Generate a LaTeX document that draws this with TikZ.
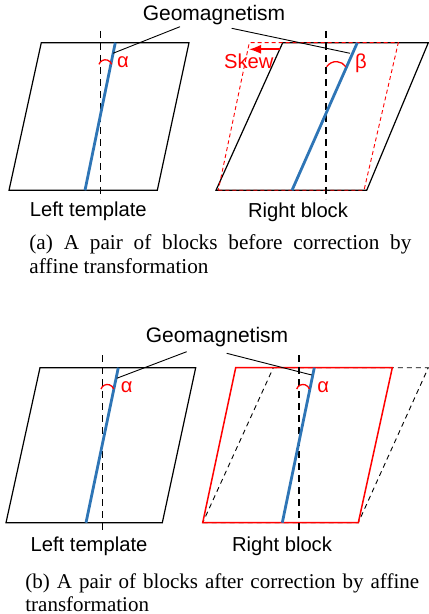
\documentclass[tikz,border=0pt]{standalone}
\usepackage{fontspec}
\setmainfont{Liberation Serif}
\setsansfont{Liberation Sans}
\usetikzlibrary{arrows.meta, positioning}
\definecolor{geoBlue}{RGB}{46,117,182}
\definecolor{skewRed}{RGB}{255,0,0}
\tikzstyle{blockEdge} = [line width=0.6pt, draw=black]
\tikzstyle{fixedEdge} = [line width=0.75pt, draw=skewRed]
\tikzstyle{ghostRed} = [line width=0.45pt, draw=skewRed, dash pattern=on 2pt off 1.5pt]
\tikzstyle{ghostBlack} = [line width=0.45pt, draw=black, dash pattern=on 2.5pt off 2pt]
\tikzstyle{northAxis} = [line width=0.6pt, dash pattern=on 3.5pt off 2.5pt]
\tikzstyle{geoLine} = [line width=1.4pt, draw=geoBlue]
\tikzstyle{leader} = [line width=0.45pt]
\tikzstyle{angleArc} = [line width=0.65pt, draw=skewRed]
\tikzstyle{skewArrow} = [line width=0.8pt, draw=skewRed, -{Latex[length=6pt, width=4.5pt]}]
\tikzstyle{blockName} = [font=\sffamily\fontsize{10.1}{12}\selectfont, inner sep=0pt]
\tikzstyle{fieldName} = [font=\sffamily\fontsize{10.5}{12}\selectfont, inner sep=0pt]
\tikzstyle{angleName} = [blockName, text=skewRed]
\tikzstyle{subCaption} = [font=\fontsize{10.6}{12}\selectfont, inner sep=0pt, anchor=north west, align=justify]

\begin{document}
\begin{tikzpicture}[x=0.5pt, y=-0.5pt]
    \useasboundingbox (0,0) rectangle (428,614);

    % (a) before correction

    \coordinate (aLA) at (9,190.3);
    \coordinate (aLB) at (157.3,190.3);
    \coordinate (aLC) at (189,42.7);
    \coordinate (aLD) at (41.3,42.7);
    \draw [blockEdge] (aLA) -- (aLB) -- (aLC) -- (aLD) -- cycle;

    \coordinate (aRA) at (216,190.3);
    \coordinate (aRB) at (366.7,190.3);
    \coordinate (aRC) at (428.3,42.7);
    \coordinate (aRD) at (282.7,42.7);
    \draw [blockEdge] (aRA) -- (aRB) -- (aRC) -- (aRD) -- cycle;

    \coordinate (aFA) at (218.3,190.3);
    \coordinate (aFB) at (364,190.3);
    \coordinate (aFC) at (398.3,42.7);
    \coordinate (aFD) at (249.3,42.7);
    \draw [ghostRed] (aFA) -- (aFB) -- (aFC) -- (aFD) -- cycle;

    \foreach \blk/\ax/\gt/\gb in {aL/100.7/115.3/85, aR/326/357.3/292} {
        \coordinate (\blk N) at (\ax,31);
        \coordinate (\blk S) at (\ax,199);
        \draw [northAxis] (\blk N) -- (\blk S);
        \coordinate (\blk Gt) at (\gt,42.7);
        \coordinate (\blk Gb) at (\gb,190.3);
        \draw [geoLine] (\blk Gt) -- (\blk Gb);
    }

    \draw [angleArc] (99,64.3) arc (-161:-19:6.7);
    \draw [angleArc] (326.7,66.7) arc (-146:-34:11.5);
    \node (aAlpha) [angleName] at (123,61.7) {α};
    \node (aBeta) [angleName] at (361,63.3) {β};

    \coordinate (skewFrom) at (280,49.3);
    \coordinate (skewTo) at (249,49.3);
    \draw [skewArrow] (skewFrom) -- (skewTo);
    \node (skewText) [angleName] at (248.8,61.7) {Skew};

    \node (aGeo) [fieldName] at (214,15) {Geomagnetism};
    \coordinate (aGeoL) at (180,26.7);
    \coordinate (aGeoR) at (231.7,28.3);
    \draw [leader] (aGeoL) -- (113,53.3);
    \draw [leader] (aGeoR) -- (350,53.3);

    \node (aLeft) [blockName] at (88.3,211.7) {Left template};
    \node (aRight) [blockName] at (298,212) {Right block};

    \node (capA) [subCaption, text width=191pt] at (29,234) {(a) A pair of blocks before correction by\linebreak affine transformation};

    % (b) after correction

    \coordinate (bLA) at (6,522.7);
    \coordinate (bLB) at (162.3,522.7);
    \coordinate (bLC) at (195.7,367.7);
    \coordinate (bLD) at (40,367.7);
    \draw [blockEdge] (bLA) -- (bLB) -- (bLC) -- (bLD) -- cycle;

    \coordinate (bOA) at (202.7,522.7);
    \coordinate (bOB) at (358.3,522.7);
    \coordinate (bOC) at (428.3,367.7);
    \coordinate (bOD) at (273.3,367.7);
    \draw [ghostBlack] (bOA) -- (bOB) -- (bOC) -- (bOD) -- cycle;

    \coordinate (bRA) at (202.7,522.7);
    \coordinate (bRB) at (358.3,522.7);
    \coordinate (bRC) at (392.3,367.7);
    \coordinate (bRD) at (235.7,367.7);
    \draw [fixedEdge] (bRA) -- (bRB) -- (bRC) -- (bRD) -- cycle;

    \foreach \blk/\ax/\gt/\gb in {bL/102.7/118.3/86, bR/299/314.3/282.3} {
        \coordinate (\blk N) at (\ax,355);
        \coordinate (\blk S) at (\ax,534.3);
        \draw [northAxis] (\blk N) -- (\blk S);
        \coordinate (\blk Gt) at (\gt,367.7);
        \coordinate (\blk Gb) at (\gb,522.7);
        \draw [geoLine] (\blk Gt) -- (\blk Gb);
    }

    \draw [angleArc] (101,389) arc (-161:-19:6.7);
    \draw [angleArc] (296.7,389) arc (-161:-19:6.7);
    \node (bAlphaL) [angleName] at (126.7,386.7) {α};
    \node (bAlphaR) [angleName] at (323.3,386.7) {α};

    \node (bGeo) [fieldName] at (217,337) {Geomagnetism};
    \coordinate (bGeoL) at (186.7,351.7);
    \coordinate (bGeoR) at (226.7,353.3);
    \draw [leader] (bGeoL) -- (116.7,378.3);
    \draw [leader] (bGeoR) -- (311.7,375);

    \node (bLeft) [blockName] at (89,546.7) {Left template};
    \node (bRight) [blockName] at (282,546.7) {Right block};

    \node (capB) [subCaption, font=\fontsize{10.5}{11.5}\selectfont, text width=201pt, align=left] at (25,573.5) {(b) A pair of blocks after correction by affine\\transformation};

\end{tikzpicture}
\end{document}
